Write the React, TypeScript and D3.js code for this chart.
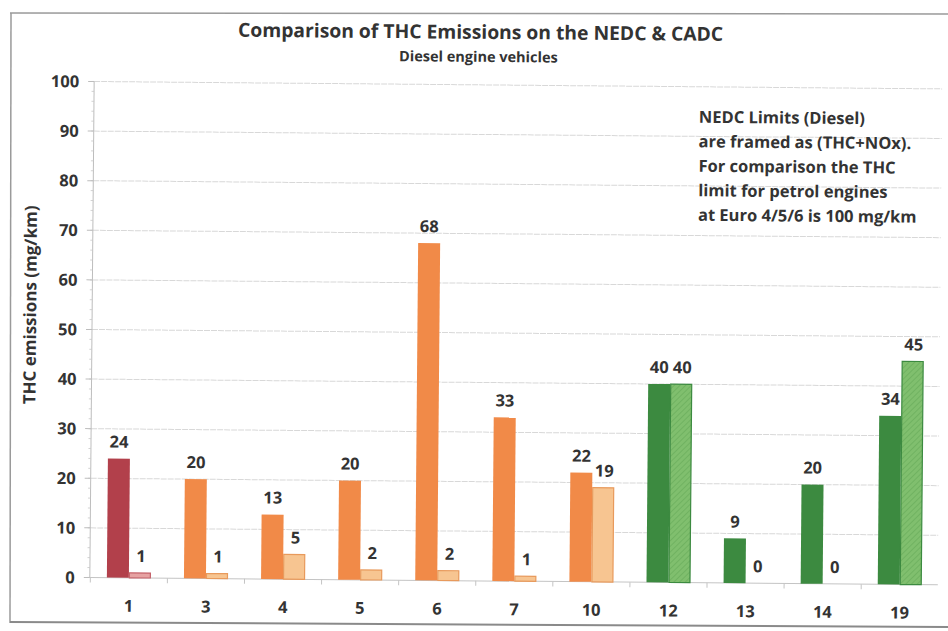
import React from "react";
import * as d3 from "d3";

const categories = ["1", "3", "4", "5", "6", "7", "10", "12", "13", "14", "19"];
const nedcValues = [24, 20, 13, 20, 68, 33, 22, 40, 9, 20, 34];
const cadcValues = [1, 1, 5, 2, 2, 1, 19, 40, 0, 0, 45];
const groups = ["red", "orange", "orange", "orange", "orange", "orange", "orange", "green", "green", "green", "green"];
const yTicks = [0, 10, 20, 30, 40, 50, 60, 70, 80, 90, 100];
const noteLines = [
  "NEDC Limits (Diesel)",
  "are framed as (THC+NOx).",
  "For comparison the THC",
  "limit for petrol engines",
  "at Euro 4/5/6 is 100 mg/km",
];

const palette: Record<string, { dark: string; light: string; lightStroke: string }> = {
  red: { dark: "#b2404b", light: "#e6a2a2", lightStroke: "#c5636b" },
  orange: { dark: "#f18a48", light: "#f7c591", lightStroke: "#e89a5c" },
  green: { dark: "#3c8a40", light: "url(#hatchGreen)", lightStroke: "#3c8a40" },
};

const W = 948;
const H = 631;
const FONT = "'Open Sans', Lato, sans-serif";
const TXT = "#333333";

export default function App() {
  const x = d3.scaleBand<string>().domain(categories).range([92.5, 940.5]).paddingInner(0).paddingOuter(0);
  const y = d3.scaleLinear().domain([0, 100]).range([581, 85]);
  const step = x.step();
  const barW = 22;
  const minorTicks = d3.range(0, 100.01, 2);

  return (
    <svg width={W} height={H} style={{ position: "absolute", left: 0, top: 0, background: "#fff" }}>
      <defs>
        <pattern id="hatchGreen" width="4" height="4" patternUnits="userSpaceOnUse" patternTransform="rotate(45)">
          <rect width="4" height="4" fill="#80bf6e" />
          <line x1="0" y1="0" x2="0" y2="4" stroke="#6aae5c" strokeWidth="1.5" />
        </pattern>
      </defs>
      <rect x={0} y={0} width={W} height={H} fill="#fff" />
      {/* frame of the scanned figure */}
      <line x1={10} y1={13} x2={948} y2={14} stroke="#9a9a9a" strokeWidth={1.5} />
      <line x1={11} y1={13} x2={10} y2={623} stroke="#9a9a9a" strokeWidth={1.5} />
      <line x1={10} y1={622} x2={948} y2={627} stroke="#8a8a8a" strokeWidth={2} />
      <g transform="rotate(0.5, 496, 330)">
        <text x={478} y={39} textAnchor="middle" fontFamily={FONT} fontWeight={700} fontSize={19.3} fill={TXT}>
          Comparison of THC Emissions on the NEDC &amp; CADC
        </text>
        <text x={476} y={62} textAnchor="middle" fontFamily={FONT} fontWeight={700} fontSize={14.5} fill={TXT}>
          Diesel engine vehicles
        </text>
        {/* gridlines */}
        {yTicks.filter((t) => t > 0).map((t) => (
          <line key={"g" + t} x1={92} x2={940} y1={y(t)} y2={y(t)} stroke="#d8d8d8" strokeWidth={1} strokeDasharray="6 1" />
        ))}
        {/* y axis */}
        <line x1={92} x2={92} y1={y(100)} y2={y(0)} stroke="#bdbdbd" strokeWidth={1} />
        {minorTicks.map((t) => (
          <line key={"m" + t} x1={89.5} x2={92} y1={y(t)} y2={y(t)} stroke="#c8c8c8" strokeWidth={0.8} />
        ))}
        {yTicks.map((t) => (
          <g key={"t" + t}>
            <line x1={86} x2={92} y1={y(t)} y2={y(t)} stroke="#bdbdbd" strokeWidth={1} />
            <text x={77} y={y(t) + 6} textAnchor="end" fontFamily={FONT} fontWeight={700} fontSize={16.5} fill={TXT}>
              {t}
            </text>
          </g>
        ))}
        <text
          transform={`translate(36, 309) rotate(-90)`}
          textAnchor="middle"
          fontFamily={FONT}
          fontWeight={700}
          fontSize={17}
          fill={TXT}
        >
          THC emissions (mg/km)
        </text>
        {/* x axis */}
        <line x1={92} x2={940} y1={y(0)} y2={y(0)} stroke="#c4c4c4" strokeWidth={1} />
        {categories.map((c) => (
          <line key={"xt" + c} x1={x(c) as number} x2={x(c) as number} y1={y(0)} y2={y(0) + 5} stroke="#c4c4c4" strokeWidth={1} />
        ))}
        {categories.map((c) => (
          <text
            key={"xl" + c}
            x={(x(c) as number) + step / 2}
            y={y(0) + 34}
            textAnchor="middle"
            fontFamily={FONT}
            fontWeight={700}
            fontSize={16.5}
            fill={TXT}
          >
            {c}
          </text>
        ))}
        {/* bars */}
        {categories.map((c, i) => {
          const cx = (x(c) as number) + step / 2;
          const p = palette[groups[i]];
          const n = nedcValues[i];
          const m = cadcValues[i];
          return (
            <g key={"b" + c}>
              <rect x={cx - barW} y={y(n)} width={barW} height={y(0) - y(n)} fill={p.dark} />
              {m > 0 && (
                <rect
                  x={cx + 0.5}
                  y={y(m)}
                  width={barW - 1}
                  height={y(0) - y(m)}
                  fill={p.light}
                  stroke={p.lightStroke}
                  strokeWidth={1.2}
                />
              )}
              <text x={cx - barW / 2} y={y(n) - 11} textAnchor="middle" fontFamily={FONT} fontWeight={700} fontSize={16.5} fill={TXT}>
                {n}
              </text>
              <text x={cx + barW / 2 + 1} y={y(m) - 11} textAnchor="middle" fontFamily={FONT} fontWeight={700} fontSize={16.5} fill={TXT}>
                {m}
              </text>
            </g>
          );
        })}
        {/* note */}
        {noteLines.map((l, i) => (
          <text key={"n" + i} x={697} y={121 + i * 24.5} fontFamily={FONT} fontWeight={700} fontSize={16.5} fill={TXT}>
            {l}
          </text>
        ))}
      </g>
    </svg>
  );
}
